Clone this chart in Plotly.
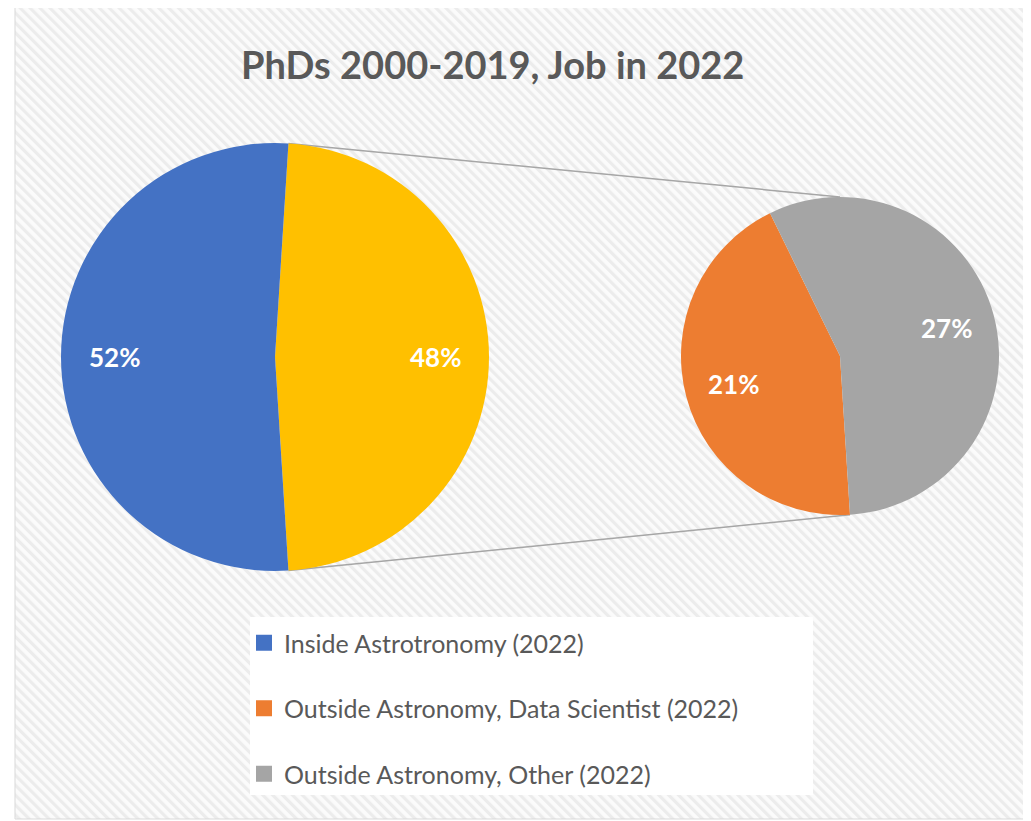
import base64
import math
import plotly.graph_objects as go

# ---------------- data ----------------
main_labels = ["Outside Astronomy (2022)", "Inside Astrotronomy (2022)"]
main_values = [48, 52]
main_colors = ["#FFC000", "#4472C4"]

sub_labels = ["Outside Astronomy, Data Scientist (2022)", "Outside Astronomy, Other (2022)"]
sub_values = [21, 27]
sub_colors = ["#ED7D31", "#A5A5A5"]

legend_labels = ["Inside Astrotronomy (2022)",
                 "Outside Astronomy, Data Scientist (2022)",
                 "Outside Astronomy, Other (2022)"]
legend_colors = ["#4472C4", "#ED7D31", "#A5A5A5"]

title_text = "PhDs 2000-2019, Job in 2022"

# ---------------- geometry ----------------
W, H = 1031, 821
OFF = 8  # page body margin
big_c, big_r = (275 - OFF, 357 - OFF), 214
small_c, small_r = (840 - OFF, 356 - OFF), 159

def px(x):
    return x / W

def py(y):
    return 1 - y / H

def domain(c, r):
    return dict(x=[px(c[0] - r), px(c[0] + r)], y=[py(c[1] + r), py(c[1] - r)])

def pt(c, r, ang):
    a = math.radians(ang)
    return c[0] + r * math.sin(a), c[1] - r * math.cos(a)

total_main = sum(main_values)
yellow_span = main_values[0] / total_main * 360.0
rot_big = 90 - yellow_span / 2          # secondary slice centred at 3 o'clock
rot_small = 180 - rot_big

fig = go.Figure()

fig.add_trace(go.Pie(
    labels=main_labels, values=main_values, sort=False, direction="clockwise",
    rotation=rot_big, domain=domain(big_c, big_r),
    marker=dict(colors=main_colors, line=dict(width=0)),
    textinfo="none", showlegend=False, hoverinfo="label+value"))

fig.add_trace(go.Pie(
    labels=sub_labels, values=sub_values, sort=False, direction="clockwise",
    rotation=rot_small, domain=domain(small_c, small_r),
    marker=dict(colors=sub_colors, line=dict(width=0)),
    textinfo="none", showlegend=False, hoverinfo="label+value"))

# legend entries
for i, (lab, col) in enumerate(zip(legend_labels, legend_colors)):
    fig.add_trace(go.Scatter(
        x=[None], y=[None], mode="markers", name=lab, legendgroup=f"g{i}",
        marker=dict(symbol="square", size=16, color=col)))

# data labels placed along each slice's middle angle
annotations = []
def slice_labels(values, rot, c, r, frac):
    tot = sum(values)
    start = rot
    for v in values:
        span = v / tot * 360.0
        x, y = pt(c, r * frac, start + span / 2)
        annotations.append(dict(text=f"<b>{v}%</b>", xref="paper", yref="paper",
                                x=px(x), y=py(y), xanchor="center", yanchor="middle",
                                showarrow=False,
                                font=dict(family="Lato", size=26, color="white")))
        start += span

slice_labels(main_values, rot_big, big_c, big_r, 0.75)
slice_labels(sub_values, rot_small, small_c, small_r, 0.69)

annotations.append(dict(text=f"<b>{title_text}</b>", xref="paper", yref="paper",
                        x=px(492 - OFF), y=py(64 - OFF), xanchor="center", yanchor="middle",
                        showarrow=False,
                        font=dict(family="Lato", size=38, color="#595959")))

# connector lines
b_top = pt(big_c, big_r, rot_big)
b_bot = pt(big_c, big_r, rot_big + yellow_span)
s_top = pt(small_c, small_r, 0)
s_bot = pt(small_c, small_r, rot_small)

shapes = []
# chart area border
shapes.append(dict(type="rect", xref="paper", yref="paper",
                   x0=px(15 - OFF), x1=1.02, y0=py(819 - OFF), y1=py(5 - OFF),
                   line=dict(color="#D9D9D9", width=1), layer="below"))
# legend box
shapes.append(dict(type="rect", xref="paper", yref="paper",
                   x0=px(250 - OFF), x1=px(813 - OFF), y0=py(795 - OFF), y1=py(617 - OFF),
                   fillcolor="white", line=dict(width=0), layer="below"))
for p, q in [(b_top, s_top), (b_bot, s_bot)]:
    shapes.append(dict(type="line", xref="paper", yref="paper",
                       x0=px(p[0]), y0=py(p[1]), x1=px(q[0]), y1=py(q[1]),
                       line=dict(color="#A6A6A6", width=1.5), layer="below"))

# hatched background
bw, bh = W - 15 + OFF, 814
svg = f'''<svg xmlns="http://www.w3.org/2000/svg" width="{bw}" height="{bh}" viewBox="0 0 {bw} {bh}" preserveAspectRatio="none">
<defs><pattern id="p" width="7" height="7" patternUnits="userSpaceOnUse" patternTransform="rotate(-45)">
<rect width="7" height="7" fill="#FBFBFB"/><rect width="3.2" height="7" fill="#ECECEC"/></pattern></defs>
<rect width="{bw}" height="{bh}" fill="url(#p)"/></svg>'''
src = "data:image/svg+xml;base64," + base64.b64encode(svg.encode()).decode()

fig.update_layout(
    width=W, height=H,
    margin=dict(l=0, r=0, t=0, b=0),
    paper_bgcolor="white", plot_bgcolor="rgba(0,0,0,0)",
    xaxis=dict(visible=False), yaxis=dict(visible=False),
    images=[dict(source=src, xref="paper", yref="paper", x=px(15 - OFF), y=py(5 - OFF),
                 sizex=bw / W, sizey=bh / H, sizing="stretch", layer="below",
                 xanchor="left", yanchor="top")],
    shapes=shapes,
    annotations=annotations,
    legend=dict(x=px(244 - OFF), y=py(620 - OFF), xanchor="left", yanchor="top",
                bgcolor="rgba(0,0,0,0)", borderwidth=0, tracegroupgap=30,
                font=dict(family="Lato", size=25, color="#595959"),
                itemsizing="trace", itemwidth=30),
    showlegend=True,
)

fig.write_html("out.html")
